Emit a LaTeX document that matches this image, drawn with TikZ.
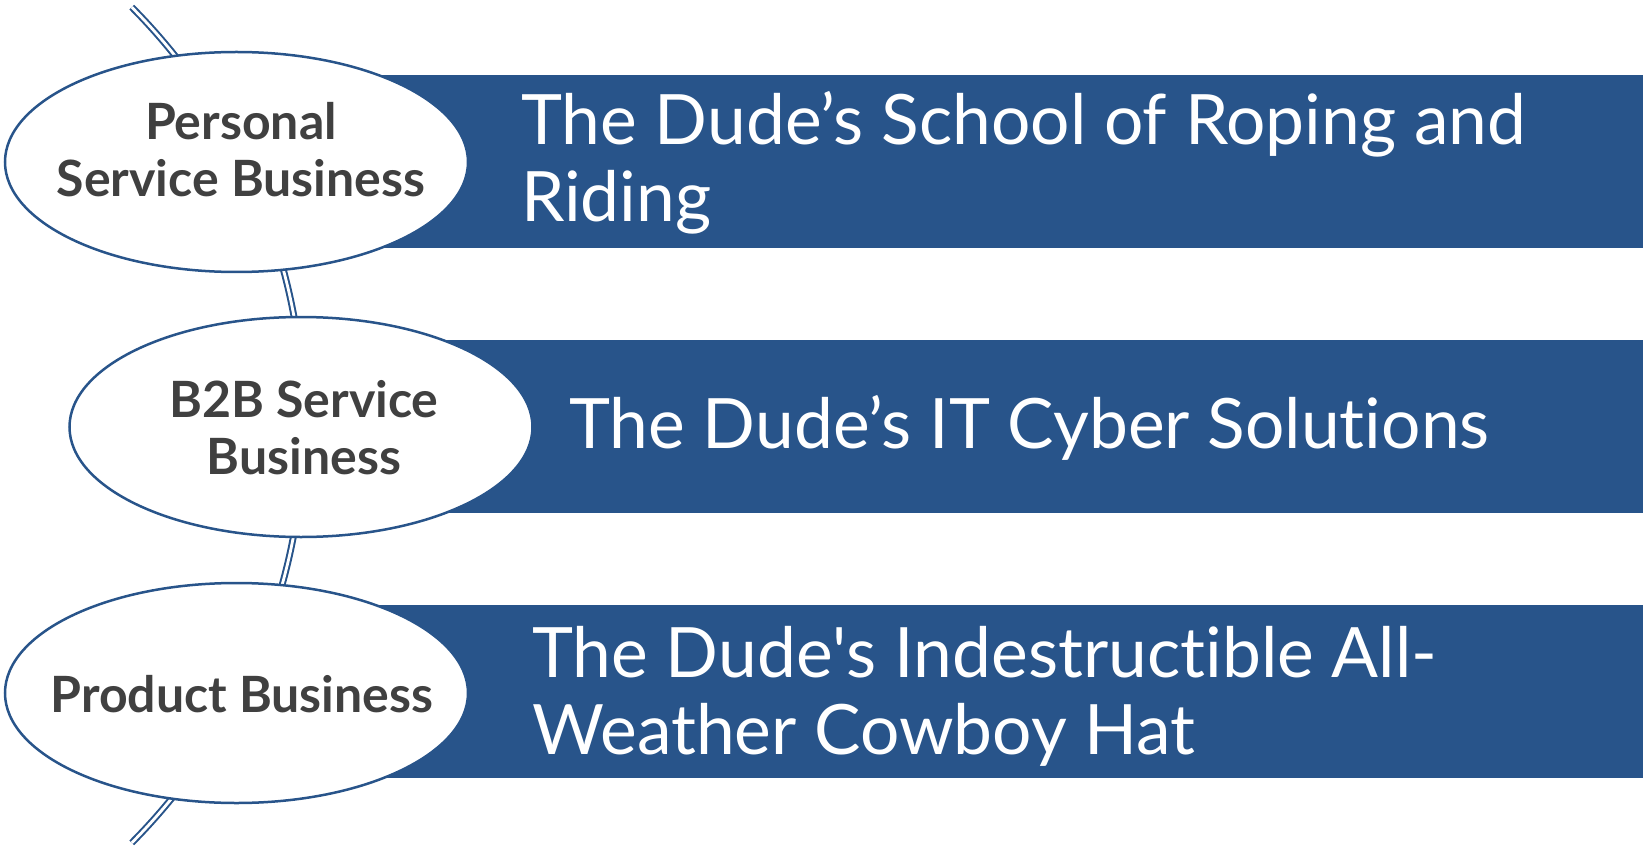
\documentclass[tikz,border=0pt]{standalone}
\usepackage{fontspec}
\setmainfont{Lato}[Ligatures=NoCommon]
\usetikzlibrary{shapes.geometric}
\definecolor{barblue}{RGB}{40,84,138}
\definecolor{txtgray}{RGB}{64,64,64}
\tikzset{
  oval/.style={ellipse,draw=barblue,line width=2.5pt,fill=white,inner sep=0pt,
    minimum width=463pt,minimum height=220pt},
  ovaltext/.style={inner sep=0pt,font=\fontsize{50}{57}\selectfont\bfseries,text=txtgray,align=center},
  bartext/.style={anchor=west,text=white,font=\fontsize{69.5}{77}\selectfont,align=left,inner sep=0pt},
  spine/.style={draw=barblue,line width=2pt,double=white,double distance=2.8pt}
}
\begin{document}
\begin{tikzpicture}[x=1pt,y=-1pt]
\useasboundingbox (0,0) rectangle (1643,850);
\coordinate (spinec) at (-289,425);
\draw[spine] (spinec) ++(-44.8:593) arc[start angle=-44.8,end angle=44.8,radius=593];
% bars
\fill[barblue] (236,75) rectangle (1643,248);
\fill[barblue] (301,340) rectangle (1643,513);
\fill[barblue] (236,605) rectangle (1643,778);
% ellipses
\node[oval] (e1) at (236.5,162) {};
\node[oval] (e2) at (301,427) {};
\node[oval] (e3) at (236.5,693) {};
\node[ovaltext] (e1t) at (241,150) {Personal\\Service Business};
\node[ovaltext] (e2t) at (304,428) {B2B Service\\Business};
\node[ovaltext] (e3t) at (242,694) {Product Business};
% bar texts
\node[bartext] (t1) at (521,163) {The Dude’s School of Roping and\\Riding};
\node[bartext] (t2) at (569,428) {The Dude’s IT Cyber Solutions};
\node[bartext] (t3) at (532,696) {The Dude\textquotesingle s Indestructible All-\\Weather Cowboy Hat};
\end{tikzpicture}
\end{document}
